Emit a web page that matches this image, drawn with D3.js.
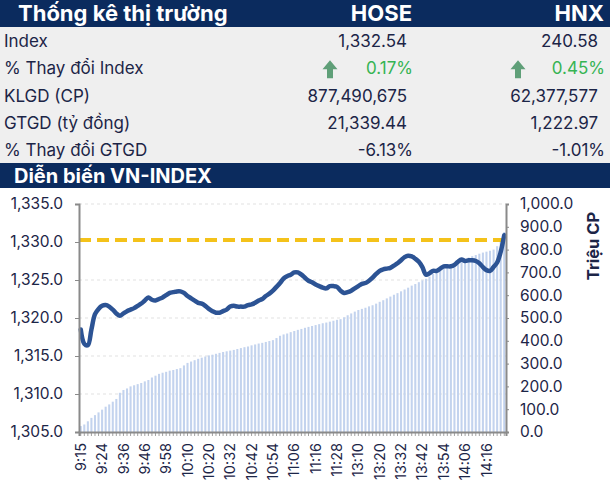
<!DOCTYPE html>
<html lang="vi">
<head>
<meta charset="UTF-8">
<title>Thống kê thị trường</title>
<style>
  body { margin: 0; background: #fff; }
  svg { display: block; font-family: Inter, "Noto Sans", sans-serif; }
  .axis path, .axis line { stroke: #8a8a8a; }
  .axis text { fill: #1c2547; font-family: Inter, "Noto Sans", sans-serif; }
</style>
</head>
<body>
<svg id="chart"></svg>
<script src="https://cdn.jsdelivr.net/npm/d3@7"></script>
<script>
// table
const statLabels = ["Index", "% Thay đổi Index", "KLGD (CP)", "GTGD (tỷ đồng)", "% Thay đổi GTGD"];
const hoseValues = ["1,332.54", "0.17%", "877,490,675", "21,339.44", "-6.13%"];
const hnxValues = ["240.58", "0.45%", "62,377,577", "1,222.97", "-1.01%"];

// intraday series
const times = [
  "9:15","9:16","9:18","9:20","9:21","9:23","9:24","9:26","9:28","9:30",
  "9:32","9:34","9:36","9:38","9:40","9:41","9:43","9:45","9:46","9:48",
  "9:50","9:52","9:54","9:56","9:58","10:00","10:02","10:04","10:06","10:08",
  "10:10","10:12","10:14","10:15","10:17","10:19","10:20","10:22","10:24","10:26",
  "10:28","10:30","10:32","10:34","10:36","10:37","10:39","10:41","10:42","10:44",
  "10:46","10:48","10:50","10:52","10:54","10:56","10:58","11:00","11:02","11:04",
  "11:06","11:08","11:10","11:11","11:13","11:15","11:16","11:18","11:20","11:22",
  "11:24","11:26","11:28","11:29","11:30","13:01","13:04","13:07","13:10","13:12",
  "13:14","13:15","13:17","13:19","13:20","13:22","13:24","13:26","13:28","13:30",
  "13:32","13:34","13:36","13:37","13:39","13:41","13:42","13:44","13:46","13:48",
  "13:50","13:52","13:54","13:56","13:58","14:00","14:02","14:04","14:06","14:08",
  "14:10","14:11","14:13","14:15","14:16","14:18","14:20","14:22","14:24","14:29"
];
const vnIndex = [
  1318.5,1316.6,1316.4,1318.5,1320.5,1321.2,1321.6,1321.7,1321.5,1321.1,
  1320.6,1320.3,1320.6,1320.9,1321.1,1321.3,1321.6,1321.9,1322.3,1322.7,
  1322.4,1322.3,1322.5,1322.7,1323.0,1323.3,1323.4,1323.5,1323.5,1323.3,
  1322.9,1322.6,1322.3,1322.0,1321.9,1321.6,1321.2,1320.9,1320.7,1320.7,
  1320.9,1321.1,1321.5,1321.6,1321.5,1321.5,1321.5,1321.7,1321.8,1322.0,
  1322.3,1322.5,1322.9,1323.2,1323.6,1324.1,1324.6,1325.2,1325.5,1325.7,
  1326.0,1326.0,1325.7,1325.3,1324.9,1324.7,1324.4,1324.2,1324.0,1323.9,
  1324.2,1324.2,1324.1,1323.6,1323.3,1323.4,1323.6,1323.9,1324.2,1324.5,
  1324.6,1324.9,1325.3,1325.8,1326.2,1326.4,1326.5,1326.6,1326.9,1327.2,
  1327.6,1328.0,1328.2,1328.1,1327.8,1327.4,1326.7,1325.7,1325.9,1326.2,
  1326.2,1326.5,1326.8,1326.8,1326.8,1327.0,1327.4,1327.7,1327.5,1327.6,
  1327.6,1327.5,1327.2,1326.7,1326.3,1326.2,1326.7,1327.3,1328.7,1330.9
];
// cumulative volume, million shares
const volume = [
  26,33,47,62,74,86,98,111,121,133,
  145,172,184,191,200,205,210,215,222,228,
  239,247,255,260,264,269,272,276,280,292,
  303,309,315,321,326,331,336,339,343,347,
  351,354,357,360,364,368,372,375,380,384,
  388,391,395,399,403,412,422,428,432,438,
  443,448,452,457,461,465,469,473,477,480,
  484,488,492,495,503,512,520,528,535,540,
  545,551,556,563,571,578,586,594,602,609,
  617,625,633,642,649,657,665,672,682,694,
  706,718,724,730,736,742,748,753,759,765,
  771,776,782,787,791,795,800,815,842,877
];
const refClose = 1330.26;
const leftTicks = [1305, 1310, 1315, 1320, 1325, 1330, 1335];
const rightTicks = [0, 100, 200, 300, 400, 500, 600, 700, 800, 900, 1000];

const W = 610, H = 483;
const navy = "#0b2b5e", ink = "#1c2547";
const plot = { left: 79, right: 506, top: 204, bottom: 432 };

const svg = d3.select("#chart").attr("width", W).attr("height", H);

// ---- statistics table ----
svg.append("rect").attr("x", 0).attr("y", 0).attr("width", W).attr("height", 27).attr("fill", navy);
svg.append("rect").attr("x", 0).attr("y", 27).attr("width", W).attr("height", 136).attr("fill", "#efefef");
svg.append("rect").attr("x", 0).attr("y", 163).attr("width", W).attr("height", 25).attr("fill", navy);

const head = svg.append("g").attr("fill", "#fff").style("font-weight", 700).style("font-size", "22px");
head.append("text").attr("x", 18).attr("y", 21).text("Thống kê thị trường");
head.append("text").attr("x", 412).attr("y", 21).attr("text-anchor", "end").text("HOSE");
head.append("text").attr("x", 604).attr("y", 21).attr("text-anchor", "end").text("HNX");

const rowY = d3.scalePoint().domain(statLabels).range([41, 150]);
const rows = svg.append("g").style("font-size", "17px").attr("fill", ink);
rows.selectAll(".lbl").data(statLabels).join("text")
  .attr("x", 4).attr("y", d => rowY(d)).attr("dy", "0.36em").text(d => d);

function valueCol(vals, xNum, xPct, arrowX) {
  vals.forEach((v, i) => {
    const isPct = v.endsWith("%");
    const up = i === 1;
    rows.append("text")
      .attr("x", isPct ? xPct : xNum).attr("y", rowY(statLabels[i])).attr("dy", "0.36em")
      .attr("text-anchor", "end")
      .attr("fill", up ? "#36b453" : ink)
      .text(v);
    if (up) {
      const cy = rowY(statLabels[i]) + 1;
      rows.append("path")
        .attr("d", `M${arrowX - 7.5},${cy} L${arrowX},${cy - 9} L${arrowX + 7.5},${cy} L${arrowX + 3},${cy} L${arrowX + 3},${cy + 9} L${arrowX - 3},${cy + 9} L${arrowX - 3},${cy} Z`)
        .attr("fill", "#5f9f78");
    }
  });
}
valueCol(hoseValues, 407, 413, 330);
valueCol(hnxValues, 598, 605, 518);

svg.append("text").attr("x", 14).attr("y", 183).attr("fill", "#fff")
  .style("font-weight", 700).style("font-size", "20px").text("Diễn biến VN-INDEX");

// ---- chart ----
const x = d3.scaleBand().domain(times).range([plot.left, plot.right]).paddingInner(0.42).paddingOuter(0.2);
const yL = d3.scaleLinear().domain([1305, 1335]).range([plot.bottom, plot.top]);
const yR = d3.scaleLinear().domain([0, 1000]).range([plot.bottom, plot.top]);

// grid
svg.append("g").selectAll("line").data(leftTicks.filter(d => d !== 1305 && d !== 1330)).join("line")
  .attr("x1", plot.left).attr("x2", plot.right)
  .attr("y1", d => yL(d)).attr("y2", d => yL(d))
  .attr("stroke", "#d9d9d9").attr("stroke-width", 0.8).attr("stroke-dasharray", "3,3");

// volume bars
svg.append("g").selectAll("rect").data(volume).join("rect")
  .attr("x", (d, i) => x(times[i]))
  .attr("width", x.bandwidth())
  .attr("y", d => yR(d))
  .attr("height", d => yR(0) - yR(d))
  .attr("fill", "#c3d3ee");

// reference level
svg.append("line")
  .attr("x1", plot.left).attr("x2", plot.right)
  .attr("y1", yL(refClose)).attr("y2", yL(refClose))
  .attr("stroke", "#f4c21a").attr("stroke-width", 4)
  .attr("stroke-dasharray", "12,6");

// index line
const line = d3.line()
  .x((d, i) => x(times[i]) + x.bandwidth() / 2)
  .y(d => yL(d))
  .curve(d3.curveCatmullRom);
svg.append("path").datum(vnIndex)
  .attr("d", line)
  .attr("fill", "none")
  .attr("stroke", "#2c5394")
  .attr("stroke-width", 4.5)
  .attr("stroke-linejoin", "round")
  .attr("stroke-linecap", "round");

// axes
const axL = svg.append("g").attr("class", "axis")
  .attr("transform", `translate(${plot.left},0)`)
  .call(d3.axisLeft(yL).tickValues(leftTicks).tickFormat(d3.format(",.1f")).tickSize(4).tickPadding(12));
axL.selectAll("text").style("font-size", "15.5px");
axL.select(".domain").attr("stroke-width", 2);

const axR = svg.append("g").attr("class", "axis")
  .attr("transform", `translate(${plot.right},0)`)
  .call(d3.axisRight(yR).tickValues(rightTicks).tickFormat(d3.format(",.1f")).tickSize(3).tickPadding(11));
axR.selectAll("text").style("font-size", "15.5px");
axR.select(".domain").attr("stroke-width", 2);

const axB = svg.append("g").attr("class", "axis")
  .attr("transform", `translate(0,${plot.bottom})`)
  .call(d3.axisBottom(x).tickSizeOuter(0).tickSize(4)
    .tickFormat((d, i) => i % 6 === 0 ? d : ""));
axB.select(".domain").attr("stroke-width", 2);
axB.selectAll("line").attr("stroke-width", 0.8);
axB.selectAll("text")
  .style("font-size", "14.5px")
  .attr("text-anchor", "end")
  .attr("transform", "rotate(-90)")
  .attr("x", -11).attr("y", 0).attr("dy", "0.35em");

svg.append("text")
  .attr("transform", `translate(599,246) rotate(-90)`)
  .attr("text-anchor", "middle")
  .attr("fill", ink)
  .style("font-weight", 700).style("font-size", "16.5px")
  .text("Triệu CP");
</script>
</body>
</html>
